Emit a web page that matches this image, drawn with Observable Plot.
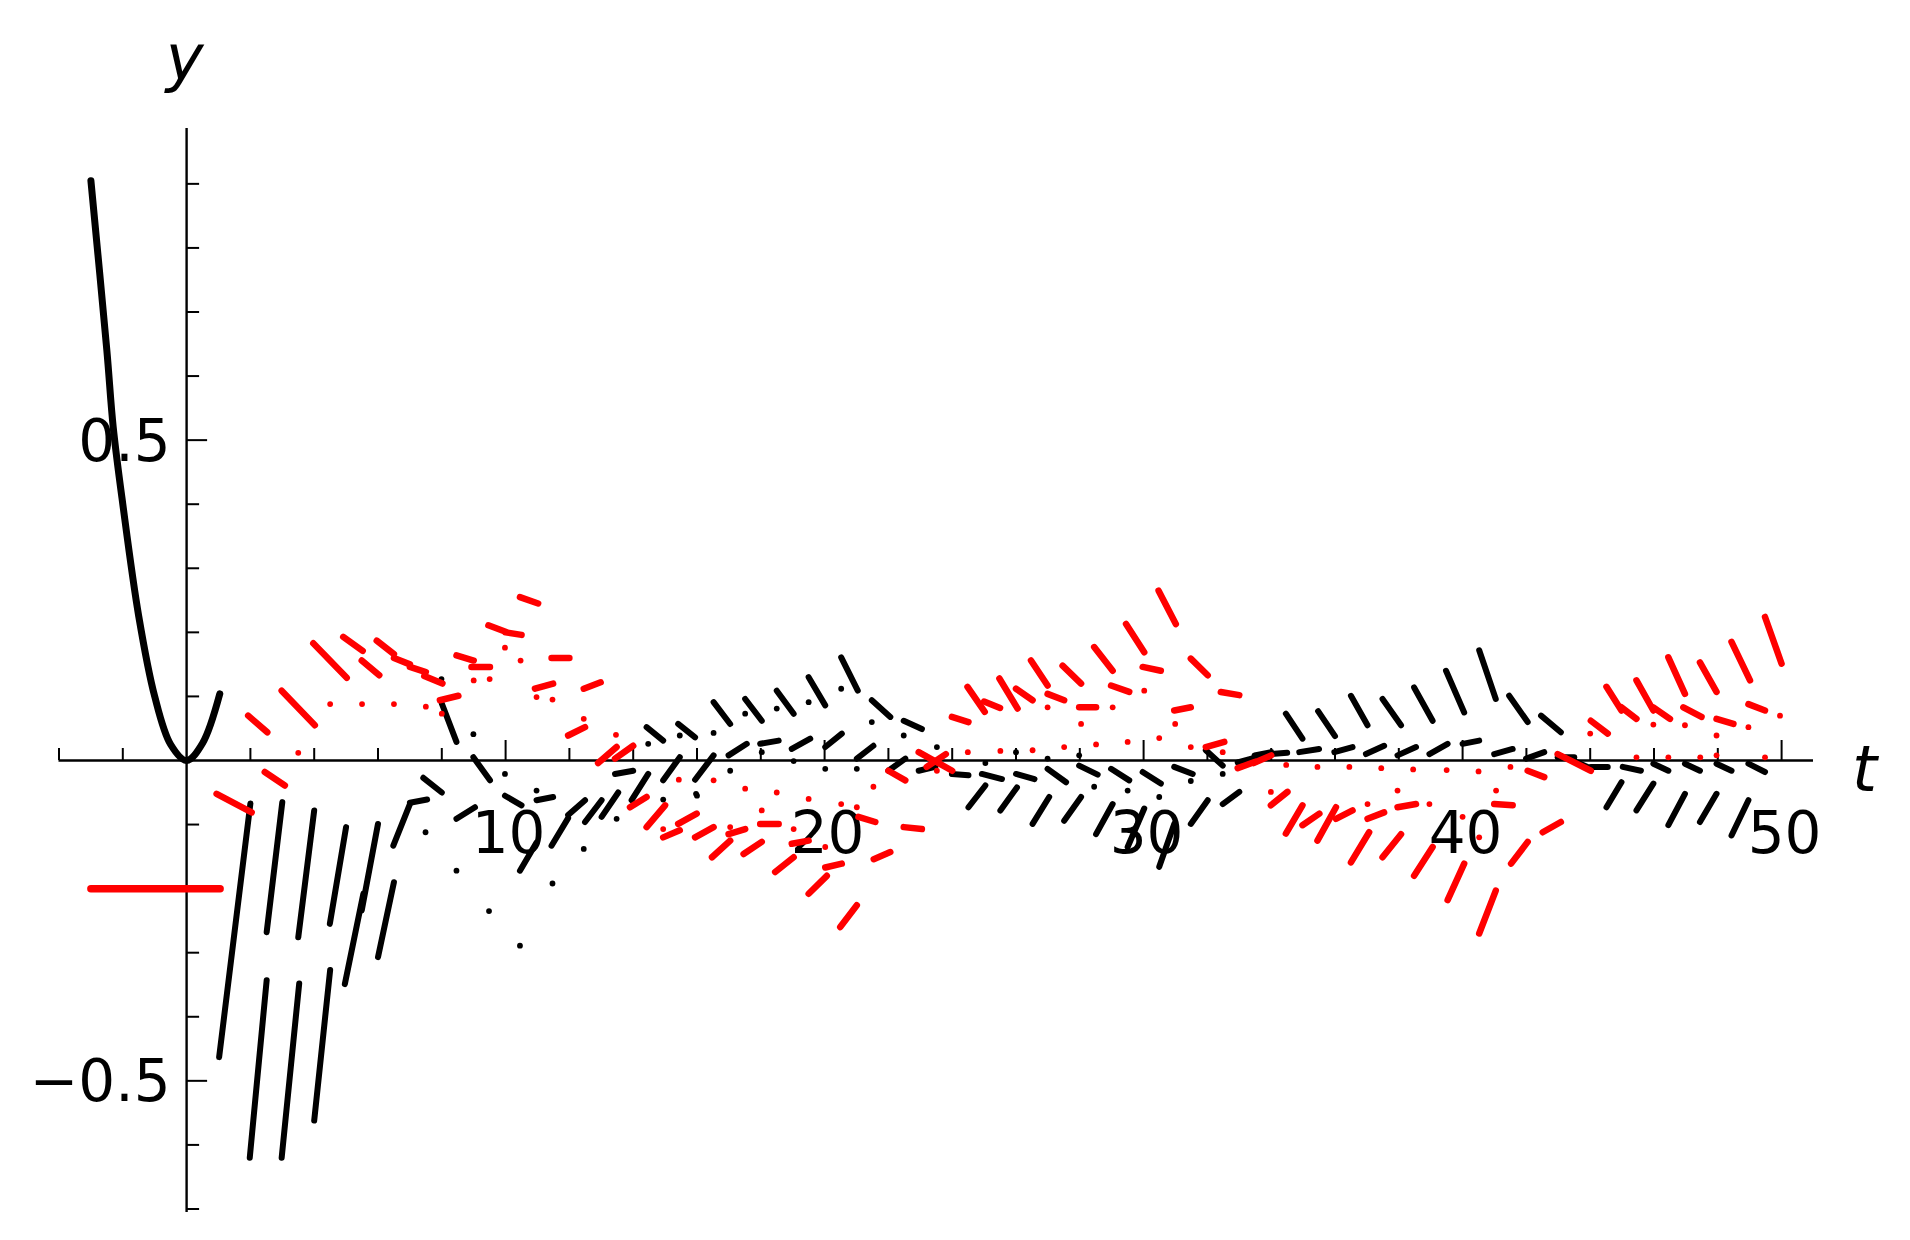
<!DOCTYPE html>
<html>
<head>
<meta charset="utf-8">
<script src="https://cdn.jsdelivr.net/npm/d3@7"></script>
<script src="https://cdn.jsdelivr.net/npm/@observablehq/plot@0.6"></script>
<style>
  html, body { margin: 0; padding: 0; background: #fff; }
  #chart svg { display: block; }
</style>
</head>
<body>
<div id="chart"></div>
<script>
// ---------- data ----------
// initial function on [-3, 1] (black) and initial red level
const initBlackT = [-3, -2.5, -2.3, -2, -1.5, -1, -0.5, 0, 0.5, 1.04];
const initBlackY = [0.905, 0.64, 0.52, 0.40, 0.225, 0.10, 0.025, 0, 0.027, 0.104];
const initRedT = [-3, 1.05];
const initRedY = [-0.2, -0.2];

// black pieces [t1, y1, t2, y2]
const blackSegs = [
  [1.02,-0.463,2.0,-0.067],[1.98,-0.62,2.51,-0.343],[2.51,-0.268,3.0,-0.065],
  [2.98,-0.62,3.53,-0.348],[3.5,-0.276,4.0,-0.078],[4.0,-0.562,4.5,-0.327],
  [4.49,-0.255,5.0,-0.104],[4.96,-0.349,5.54,-0.208],[5.49,-0.234,6.0,-0.099],
  [6.0,-0.307,6.5,-0.19],[6.48,-0.133,7.0,-0.068],[7.0,-0.066,7.54,-0.061],
  [7.42,-0.027,8.0,-0.05],[8.0,0.089,8.46,0.029],[8.46,-0.091,9.04,-0.073],
  [8.99,0.005,9.51,-0.031],[9.98,-0.055,10.5,-0.070],[10.45,-0.172,10.97,-0.128],
  [10.97,-0.062,11.49,-0.057],[11.44,-0.133,11.96,-0.090],[11.96,-0.085,12.49,-0.062],
  [12.49,-0.096,13.01,-0.062],[13.01,-0.088,13.53,-0.050],[13.43,-0.021,14.0,-0.016],
  [13.95,-0.062,14.47,-0.021],[14.42,0.052,14.94,0.031],[14.94,-0.031,15.46,0.005],
  [15.41,0.057,15.94,0.036],[15.94,-0.03,16.52,0.008],
  [16.52,0.091,17.04,0.057],[17.51,0.096,18.03,0.062],[18.5,0.109,19.03,0.073],
  [19.5,0.130,20.02,0.086],[20.52,0.161,21.04,0.109],[21.48,0.094,22.06,0.068],
  [22.48,0.062,23.05,0.049],[16.99,0.008,17.56,0.026],[17.98,0.026,18.56,0.031],
  [18.97,0.018,19.55,0.034],[20.02,0.021,20.54,0.042],[21.01,0.003,21.53,0.023],
  [22.0,-0.016,22.53,0.003],[22.95,-0.016,23.47,-0.010],[23.99,-0.021,24.51,-0.023],
  [24.93,-0.021,25.56,-0.029],[24.51,-0.073,25.04,-0.039],[25.51,-0.078,26.03,-0.042],
  [26.0,-0.021,26.58,-0.029],[26.99,-0.013,27.57,-0.034],[27.98,-0.008,28.56,-0.022],
  [28.98,-0.013,29.55,-0.031],[29.97,-0.018,30.54,-0.036],[30.96,-0.010,31.54,-0.021],
  [26.52,-0.099,27.04,-0.057],[27.51,-0.094,28.04,-0.057],[28.51,-0.115,29.03,-0.068],
  [29.5,-0.135,30.02,-0.075],[30.49,-0.166,30.96,-0.099],[31.48,-0.099,32.01,-0.062],
  [32.48,-0.068,33.0,-0.049],[31.95,0.016,32.48,-0.008],[32.95,-0.003,33.53,0.005],
  [33.48,0.008,34.0,0.013],[34.0,0.010,34.5,0.012],[34.46,0.073,34.98,0.034],
  [35.47,0.077,36.0,0.038],[34.88,0.013,35.5,0.018],
  [36.5,0.101,37.02,0.055],[37.49,0.096,38.07,0.055],[38.48,0.114,39.06,0.062],
  [39.48,0.140,40.05,0.075],[40.52,0.172,41.04,0.096],[41.46,0.101,42.04,0.060],
  [42.46,0.070,43.08,0.044],[35.98,0.013,36.55,0.021],[36.97,0.010,37.54,0.023],
  [37.96,0.008,38.54,0.021],[38.96,0.010,39.53,0.026],[40.0,0.026,40.52,0.031],
  [40.99,0.010,41.57,0.018],[41.99,0.003,42.56,0.013],[42.98,0.005,43.5,0.005],
  [43.46,0.0,44.0,-0.012],[44.02,-0.010,44.55,-0.010],[45.02,-0.010,45.59,-0.016],
  [44.51,-0.073,44.98,-0.034],[45.45,-0.078,45.98,-0.036],[46.45,-0.101,46.97,-0.052],
  [47.44,-0.096,47.96,-0.052],[48.43,-0.117,48.96,-0.062],[45.98,-0.005,46.45,-0.016],
  [46.97,-0.005,47.44,-0.016],[47.96,-0.005,48.43,-0.016],[48.96,-0.005,49.48,-0.018]
];

// black isolated points [t, y]
const blackDots = [
  [7.99,0.127],[8.99,0.041],[9.98,-0.021],[10.97,-0.047],[7.49,-0.112],[8.46,-0.172],
  [9.48,-0.235],[10.45,-0.289],[11.47,-0.192],[12.45,-0.138],[13.48,-0.091],[14.47,0.026],
  [14.94,-0.061],[15.46,0.039],[15.97,-0.052],[16.52,0.043],[17.51,0.073],[18.5,0.081],
  [19.5,0.091],[20.52,0.112],[21.48,0.060],[22.48,0.039],[23.52,0.021],[16.0,-0.055],
  [17.04,-0.016],[18.03,0.013],[19.03,-0.001],[20.02,-0.013],[21.01,-0.013],[25.04,-0.004],
  [26.0,0.013],[26.99,0.003],[27.98,0.008],[28.45,-0.041],[29.5,-0.047],[30.49,-0.057],
  [31.48,-0.032],[32.48,-0.021]
];

// red pieces [t1, y1, t2, y2]
const redSegs = [
  [0.94,-0.052,2.04,-0.081],[2.45,-0.018,3.08,-0.039],
  [1.93,0.070,2.53,0.044],[2.98,0.109,4.02,0.055],[3.97,0.183,5.02,0.129],
  [4.91,0.193,5.52,0.171],[5.49,0.156,6.04,0.133],[5.96,0.187,6.5,0.166],
  [6.5,0.160,7.0,0.150],[7.0,0.146,7.5,0.138],[7.45,0.132,8.02,0.120],
  [7.94,0.094,8.52,0.101],[8.46,0.164,9.0,0.156],[8.93,0.146,9.51,0.146],
  [9.46,0.211,10.0,0.201],[10.0,0.200,10.5,0.196],[10.45,0.255,11.02,0.245],
  [10.92,0.112,11.49,0.120],[11.44,0.160,12.0,0.160],[11.96,0.039,12.49,0.052],
  [12.45,0.112,12.98,0.122],[12.9,-0.004,13.48,0.021],[13.43,0.003,14.0,0.023],
  [13.9,-0.073,14.42,-0.057],[14.42,-0.104,15.0,-0.070],[14.94,-0.120,15.46,-0.109],
  [15.41,-0.099,15.99,-0.083],[15.94,-0.12,16.52,-0.104],
  [16.47,-0.151,17.04,-0.125],[16.99,-0.115,17.51,-0.107],[17.46,-0.146,18.03,-0.127],
  [17.98,-0.099,18.56,-0.099],[18.45,-0.174,19.03,-0.151],[18.97,-0.130,19.5,-0.125],
  [19.5,-0.208,20.07,-0.180],[20.02,-0.167,20.54,-0.161],[20.49,-0.260,21.01,-0.226],
  [21.06,-0.088,21.59,-0.096],[21.54,-0.154,22.06,-0.143],[22.0,-0.016,22.53,-0.031],
  [22.48,-0.104,23.05,-0.107],[22.95,0.013,24.0,-0.016],[23.2,-0.010,23.8,0.010],
  [23.99,0.068,24.51,0.060],[24.48,0.115,25.02,0.076],[25.0,0.092,25.5,0.082],
  [25.48,0.128,26.05,0.081],
  [26.0,0.112,26.52,0.094],[26.47,0.156,26.99,0.117],[26.99,0.104,27.51,0.094],
  [27.46,0.148,28.04,0.120],[27.98,0.083,28.51,0.083],[28.45,0.177,29.03,0.140],
  [28.98,0.117,29.55,0.107],[29.45,0.213,30.02,0.169],[29.97,0.146,30.54,0.140],
  [30.47,0.265,31.01,0.213],[30.96,0.078,31.48,0.083],[31.48,0.159,32.01,0.133],
  [32.42,0.107,33.0,0.102],[31.95,0.021,32.53,0.029],
  [32.95,-0.012,33.5,-0.002],[33.45,-0.004,34.0,0.008],
  [33.99,-0.070,34.51,-0.049],[34.46,-0.114,34.98,-0.070],[34.98,-0.101,35.51,-0.083],
  [35.45,-0.125,36.03,-0.073],[36.03,-0.091,36.55,-0.078],[36.5,-0.159,37.07,-0.112],
  [37.02,-0.091,37.54,-0.081],[37.49,-0.151,38.07,-0.115],[37.96,-0.073,38.54,-0.068],
  [38.48,-0.180,39.06,-0.135],[39.53,-0.218,40.05,-0.161],[40.52,-0.270,41.04,-0.203],
  [40.99,-0.068,41.57,-0.070],[41.52,-0.161,42.04,-0.127],[42.51,-0.112,43.08,-0.096],
  [42.04,-0.016,42.56,-0.026],[42.98,0.010,44.02,-0.016],
  [44.02,0.062,44.55,0.042],[44.51,0.115,44.98,0.078],[44.98,0.083,45.45,0.065],
  [45.45,0.125,45.98,0.078],[45.98,0.083,46.5,0.065],[46.45,0.161,46.97,0.104],
  [46.92,0.083,47.49,0.068],[47.44,0.153,47.96,0.107],[47.96,0.065,48.49,0.057],
  [48.43,0.185,49.01,0.125],[48.96,0.088,49.48,0.078],[49.48,0.224,50.0,0.151]
];

// red isolated points [t, y]
const redDots = [
  [3.5,0.012],[4.5,0.088],[5.5,0.088],[6.5,0.088],[7.5,0.084],[8.0,0.073],[9.0,0.125],
  [9.5,0.127],[9.98,0.176],[10.47,0.156],[10.97,0.099],[11.47,0.095],[12.45,0.065],
  [13.46,0.040],[15.43,-0.030],[14.94,-0.107],
  [16.52,-0.031],[17.51,-0.044],[18.5,-0.050],[19.5,-0.060],[20.52,-0.068],[21.53,-0.041],
  [18.03,-0.078],[19.03,-0.107],[20.02,-0.135],[21.01,-0.073],[17.04,-0.104],[23.52,-0.016],
  [24.49,0.013],[25.51,0.015],
  [26.52,0.016],[27.51,0.021],[28.51,0.025],[29.5,0.029],[30.49,0.035],[31.48,0.021],
  [26.99,0.083],[28.04,0.057],[29.03,0.083],[30.02,0.109],[30.99,0.057],[32.48,0.013],
  [33.99,-0.049],[34.47,-0.007],[35.45,-0.010],[36.45,-0.010],[37.45,-0.012],[38.45,-0.014],
  [39.5,-0.015],[40.5,-0.017],[41.5,-0.010],[37.02,-0.068],[37.96,-0.047],[38.96,-0.068],
  [40.0,-0.088],[40.52,-0.120],[41.05,-0.047],
  [44.0,0.042],[45.98,0.056],[46.97,0.055],[47.96,0.039],[48.96,0.052],[49.95,0.070],
  [45.45,0.005],[46.45,0.005],[47.45,0.005],[47.96,0.008],[49.48,0.005]
];

// axes ticks and labels
const xMinorTicks = [-4,-2,2,4,6,8,12,14,16,18,22,24,26,28,32,34,36,38,42,44,46,48];
const xMajorTicks = [10,20,30,40,50];
const xTickLabels = [10,20,30,40,50];
const yMinorTicks = [-0.7,-0.6,-0.4,-0.3,-0.2,-0.1,0.1,0.2,0.3,0.4,0.6,0.7,0.8,0.9];
const yMajorTicks = [-0.5,0.5];
const yTickLabels = [-0.5,0.5];

// ---------- drawing ----------
const xDomain = [-4, 51];
const yDomain = [-0.7055, 0.9864];
const pxPerY = (1212 - 128) / (yDomain[1] - yDomain[0]);
const pxPerX = (1813 - 58.5) / (xDomain[1] - xDomain[0]);
const FONT = "DejaVu Sans, Liberation Sans, sans-serif";

const initBlack = initBlackT.map((t, i) => ({t, y: initBlackY[i]}));
const initRed = initRedT.map((t, i) => ({t, y: initRedY[i]}));

const seg = (opts) => ({x1: d => d[0], y1: d => d[1], x2: d => d[2], y2: d => d[3], ...opts});

const chart = Plot.plot({
  width: 1910,
  height: 1240,
  marginLeft: 58.5,
  marginRight: 97,
  marginTop: 128,
  marginBottom: 28,
  x: {domain: xDomain, axis: null},
  y: {domain: yDomain, axis: null},
  style: {background: "white", overflow: "visible"},
  marks: [
    // axes through the origin
    Plot.ruleY([0], {stroke: "black", strokeWidth: 2.4}),
    Plot.ruleX([0], {stroke: "black", strokeWidth: 2.4}),
    Plot.ruleX(xMinorTicks, {x: d => d, y1: 0, y2: 12 / pxPerY, stroke: "black", strokeWidth: 2}),
    Plot.ruleX(xMajorTicks, {x: d => d, y1: 0, y2: 20 / pxPerY, stroke: "black", strokeWidth: 2}),
    Plot.ruleY(yMinorTicks, {y: d => d, x1: 0, x2: 13 / pxPerX, stroke: "black", strokeWidth: 2}),
    Plot.ruleY(yMajorTicks, {y: d => d, x1: 0, x2: 21 / pxPerX, stroke: "black", strokeWidth: 2}),
    Plot.text(xTickLabels, {x: d => d, y: 0, text: d => String(d), dy: 74, dx: 3,
      fontSize: 58, fontFamily: FONT, fill: "black"}),
    Plot.text(yTickLabels, {x: 0, y: d => d, text: d => d < 0 ? "\u2212" + Math.abs(d) : String(d),
      textAnchor: "end", dx: -16, dy: 2, fontSize: 58, fontFamily: FONT, fill: "black"}),
    Plot.text(["y"], {x: 0, y: yDomain[1], text: d => d, dy: -69, dx: -2,
      fontSize: 64, fontStyle: "italic", fontFamily: FONT, fill: "black"}),
    Plot.text(["t"], {x: xDomain[1], y: 0, text: d => d, dx: 51, dy: 10,
      fontSize: 64, fontStyle: "italic", fontFamily: FONT, fill: "black"}),

    // black solution
    Plot.line(initBlack, {x: "t", y: "y", stroke: "black", strokeWidth: 7, curve: "catmull-rom"}),
    Plot.link(blackSegs, seg({stroke: "black", strokeWidth: 6, strokeLinecap: "round"})),
    Plot.dot(blackDots, {x: d => d[0], y: d => d[1], r: 2.9, fill: "black", stroke: null}),

    // red solution
    Plot.line(initRed, {x: "t", y: "y", stroke: "#ff0000", strokeWidth: 7.5}),
    Plot.link(redSegs, seg({stroke: "#ff0000", strokeWidth: 6.5, strokeLinecap: "round"})),
    Plot.dot(redDots, {x: d => d[0], y: d => d[1], r: 2.9, fill: "#ff0000", stroke: null})
  ]
});

document.getElementById("chart").appendChild(chart);
</script>
</body>
</html>
